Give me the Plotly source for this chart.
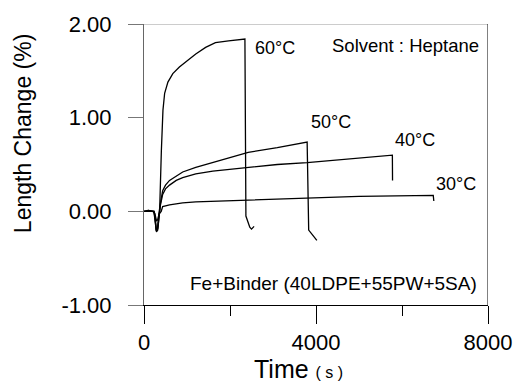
import plotly.graph_objects as go

# Data (time in s, length change in %)
t60 = [0, 100, 200, 250, 280, 310, 340, 366, 404, 441, 480, 556, 670, 823, 1013, 1204, 1433, 1661, 1966, 2347,
       2370, 2460, 2500, 2560]
v60 = [0.00, 0.01, 0.00, -0.02, -0.20, -0.20, -0.05, 0.04, 0.65, 1.08, 1.26, 1.38, 1.47, 1.54, 1.61, 1.68, 1.75,
       1.80, 1.82, 1.84, -0.05, -0.17, -0.19, -0.16]

t50 = [0, 100, 230, 260, 290, 320, 350, 380, 434, 500, 594, 750, 900, 1204, 1800, 2423, 3100, 3794, 3830, 4020]
v50 = [0.00, 0.01, 0.00, -0.10, -0.22, -0.20, -0.05, 0.08, 0.22, 0.28, 0.33, 0.38, 0.42, 0.47, 0.55, 0.63, 0.68,
       0.74, -0.20, -0.31]

t40 = [0, 100, 230, 260, 290, 320, 350, 380, 434, 500, 594, 750, 900, 1204, 1600, 2000, 2423, 3100, 3794, 4800,
       5776, 5780]
v40 = [0.00, 0.00, 0.00, -0.08, -0.20, -0.18, -0.04, 0.06, 0.18, 0.24, 0.28, 0.33, 0.36, 0.40, 0.43, 0.45, 0.47,
       0.50, 0.52, 0.56, 0.60, 0.33]

t30 = [0, 100, 230, 260, 290, 320, 350, 400, 434, 594, 900, 1204, 2423, 3794, 5000, 6727, 6740]
v30 = [0.00, 0.00, 0.00, -0.04, -0.10, -0.09, -0.03, 0.00, 0.05, 0.07, 0.09, 0.10, 0.12, 0.146, 0.16, 0.17, 0.11]

series = [("60°C", t60, v60), ("50°C", t50, v50), ("40°C", t40, v40), ("30°C", t30, v30)]
label_pos = {"60°C": (2537, 1.74), "50°C": (3840, 0.95), "40°C": (5783, 0.76), "30°C": (6743, 0.29)}

x_ticks = [0, 4000, 8000]
y_ticks = [-1.0, 0.0, 1.0, 2.0]
y_ticklabels = ["-1.00", "0.00", "1.00", "2.00"]

FONT = "Liberation Sans, Arial, sans-serif"

fig = go.Figure()
for name, t, v in series:
    fig.add_trace(go.Scatter(x=t, y=v, mode="lines", name=name,
                             line=dict(color="black", width=1.3), showlegend=False))

for name, (tx, ty) in label_pos.items():
    fig.add_annotation(x=tx, y=ty, text=name, showarrow=False, xanchor="left", yanchor="middle",
                       font=dict(family=FONT, size=18, color="black"))

fig.add_annotation(x=7840, y=1.77, text="Solvent : Heptane", showarrow=False, xanchor="right",
                   yanchor="middle", font=dict(family=FONT, size=18.5, color="black"))
fig.add_annotation(x=7794, y=-0.77, text="Fe+Binder (40LDPE+55PW+5SA)", showarrow=False,
                   xanchor="right", yanchor="middle", font=dict(family=FONT, size=19, color="black"))

# axis titles
fig.add_annotation(xref="paper", yref="paper", x=0.45, y=-0.228, showarrow=False,
                   xanchor="center", yanchor="middle",
                   text="Time <span style='font-size:16px'>( s )</span>",
                   font=dict(family=FONT, size=25, color="black"))
fig.add_annotation(xref="paper", yref="paper", x=-0.351, y=0.609, showarrow=False, textangle=-90,
                   xanchor="center", yanchor="middle", text="Length Change (%)",
                   font=dict(family=FONT, size=23, color="black"))

# top and right frame lines
fig.add_shape(type="line", xref="x", yref="y", x0=0, x1=8000, y0=2, y1=2,
              line=dict(color="#999", width=1))
fig.add_shape(type="line", xref="x", yref="y", x0=8000, x1=8000, y0=-1, y1=2,
              line=dict(color="black", width=1))

fig.update_layout(
    width=524, height=387,
    margin=dict(l=144, r=30, t=24, b=82),
    paper_bgcolor="white", plot_bgcolor="white",
    font=dict(family=FONT, color="black"),
)
fig.update_xaxes(range=[0, 8000], tickvals=x_ticks, ticks="outside", ticklen=18, tickwidth=1,
                 tickcolor="black", showgrid=False, zeroline=False, showline=True,
                 linecolor="black", linewidth=1,
                 minor=dict(dtick=2000, ticks="outside", ticklen=10, tickcolor="black", showgrid=False),
                 tickfont=dict(size=22, family=FONT))
fig.update_yaxes(range=[-1, 2], tickvals=y_ticks, ticktext=y_ticklabels, ticks="outside", ticklen=15,
                 tickcolor="#777", tickwidth=1, showgrid=False, zeroline=False, showline=True,
                 linecolor="#666", linewidth=1, ticklabelstandoff=12,
                 tickfont=dict(size=22, family=FONT))

fig.write_html("out.html")
